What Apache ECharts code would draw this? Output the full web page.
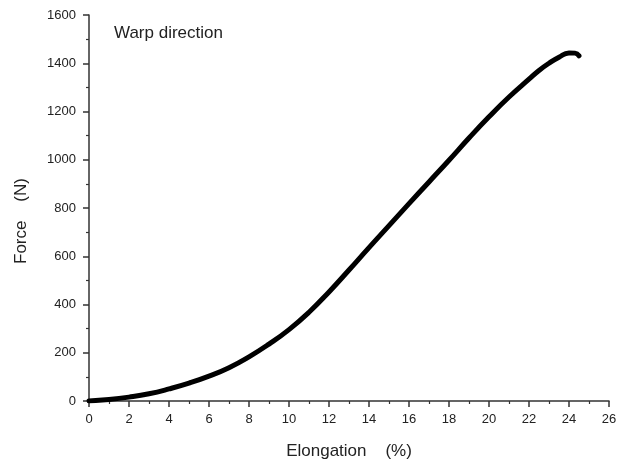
<!DOCTYPE html>
<html>
<head>
<meta charset="utf-8">
<script src="https://cdn.jsdelivr.net/npm/echarts@6/dist/echarts.min.js"></script>
<style>
  html, body { margin: 0; padding: 0; background: #fff; }
  #chart { width: 627px; height: 465px; }
</style>
</head>
<body>
<div id="chart"></div>
<script>
// Tensile test curve, warp direction: force against elongation
const elongation = [0, 1, 2, 3, 4, 5, 6, 7, 8, 9, 10, 11, 12, 13, 14, 15, 16, 17, 18, 19,
  20, 21, 22, 22.5, 23, 23.5, 24, 24.3, 24.5];
const force = [0, 6, 16, 30, 50, 74, 103, 138, 183, 236, 296, 368, 452, 543, 636, 727, 818, 908, 998, 1090,
  1178, 1260, 1334, 1370, 1400, 1425, 1443, 1442, 1431];

const font = 'Liberation Sans, Arial, sans-serif';
const ink = '#222';
const axisColor = '#333';

const chart = echarts.init(document.getElementById('chart'), null, { renderer: 'canvas' });

const axisCommon = {
  type: 'value',
  nameLocation: 'middle',
  axisLine: { show: true, lineStyle: { color: axisColor, width: 1.5 } },
  axisTick: { show: true, inside: false, length: 6, lineStyle: { color: axisColor, width: 1.5 } },
  minorTick: { show: true, splitNumber: 2, length: 3, lineStyle: { color: axisColor, width: 1.2 } },
  splitLine: { show: false },
  minorSplitLine: { show: false }
};

chart.setOption({
  animation: false,
  backgroundColor: '#fff',
  title: {
    text: 'Warp direction',
    left: 109, top: 20,
    textStyle: { fontFamily: font, fontSize: 17, fontWeight: 'normal', color: ink }
  },
  grid: { left: 89, top: 15, right: 18, bottom: 62 },
  xAxis: Object.assign({}, axisCommon, {
    min: 0, max: 26, interval: 2,
    name: 'Elongation    (%)', nameGap: 42,
    nameTextStyle: { fontFamily: font, fontSize: 17, color: ink },
    axisLabel: { fontFamily: font, fontSize: 13, color: ink, margin: 12 }
  }),
  yAxis: Object.assign({}, axisCommon, {
    min: 0, max: 1600, interval: 200,
    name: 'Force    (N)', nameGap: 59,
    nameTextStyle: { fontFamily: font, fontSize: 17, color: ink, padding: [0, 26, 0, 0] },
    axisLabel: { fontFamily: font, fontSize: 13, color: ink, margin: 13, formatter: v => String(v) }
  }),
  series: [{
    type: 'line',
    data: elongation.map((x, i) => [x, force[i]]),
    smooth: 0.5,
    showSymbol: false,
    lineStyle: { color: '#000', width: 5, cap: 'round', join: 'round' }
  }]
});
</script>
</body>
</html>
